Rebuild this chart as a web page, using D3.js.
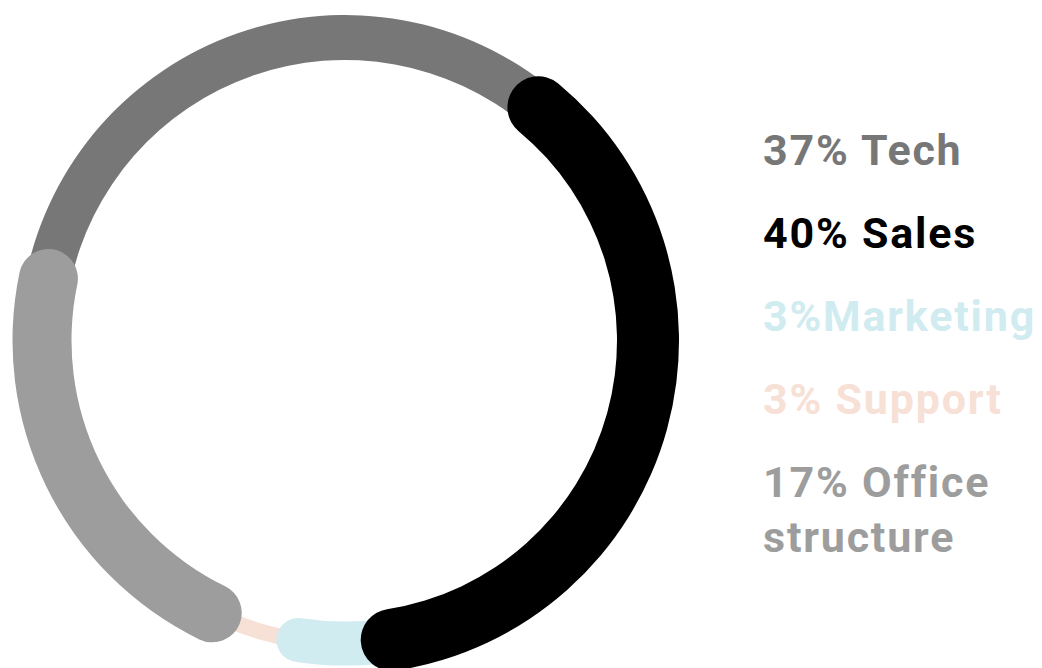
<!DOCTYPE html>
<html>
<head>
<meta charset="utf-8">
<script src="https://cdn.jsdelivr.net/npm/d3@7"></script>
<style>
  html, body { margin: 0; padding: 0; background: #fff; }
  svg { display: block; }
</style>
</head>
<body>
<svg id="chart" width="1042" height="668"></svg>
<script>
// Data.
const categories = ["Tech", "Sales", "Marketing", "Support", "Office structure"];
const shares = [37, 40, 3, 3, 17];
const legendLines = [["37% Tech"], ["40% Sales"], ["3%Marketing"], ["3% Support"], ["17% Office", "structure"]];
// visible extent of each ring segment, degrees clockwise from 12 o'clock (rounded ends included)
const arcStartDeg = [277.5, 33.8, 167, 187.5, 200.4];
const arcEndDeg = [404, 177, 193, 208, 287.4];
const colors = ["#777777", "#000000", "#d0ecf0", "#f7e0d5", "#9d9d9d"];

const svg = d3.select("#chart");
const cx = 345, cy = 340.5, R = 303;

const color = d3.scaleOrdinal().domain(categories).range(colors);
const angle = d3.scaleLinear().domain([0, 360]).range([0, 2 * Math.PI]);
// band thickness per segment (thinner ones sit underneath)
const thickness = d3.scaleOrdinal().domain(categories).range([45, 62, 44, 16, 59]);

const segments = categories.map((c, i) => ({
    category: c,
    share: shares[i],
    a0: angle(arcStartDeg[i]),
    a1: angle(arcEndDeg[i]),
    w: thickness(c)
})).sort((a, b) => a.w - b.w);

const arc = d3.arc()
    .innerRadius(d => R - d.w / 2)
    .outerRadius(d => R + d.w / 2)
    .startAngle(d => d.a0)
    .endAngle(d => d.a1)
    .cornerRadius(d => d.w / 2);

const g = svg.append("g").attr("transform", `translate(${cx},${cy})`);

g.selectAll("path.seg")
    .data(segments)
    .enter()
    .append("path")
    .attr("class", "seg")
    .attr("d", arc)
    .attr("fill", d => color(d.category));

// Legend on the right.
const legendY = d3.scaleLinear().domain([0, 1]).range([165, 248]);

const legend = svg.append("g")
    .attr("font-family", "Roboto, 'Noto Sans', sans-serif")
    .attr("font-weight", 700)
    .attr("font-size", 43)
    .attr("letter-spacing", 1.8);

const items = legend.selectAll("text")
    .data(categories)
    .enter()
    .append("text")
    .attr("x", 763)
    .attr("y", (d, i) => legendY(i))
    .attr("fill", d => color(d));

items.selectAll("tspan")
    .data((d, i) => legendLines[i])
    .enter()
    .append("tspan")
    .attr("x", 763)
    .attr("dy", (d, j) => j === 0 ? 0 : 55)
    .text(d => d);
</script>
</body>
</html>
